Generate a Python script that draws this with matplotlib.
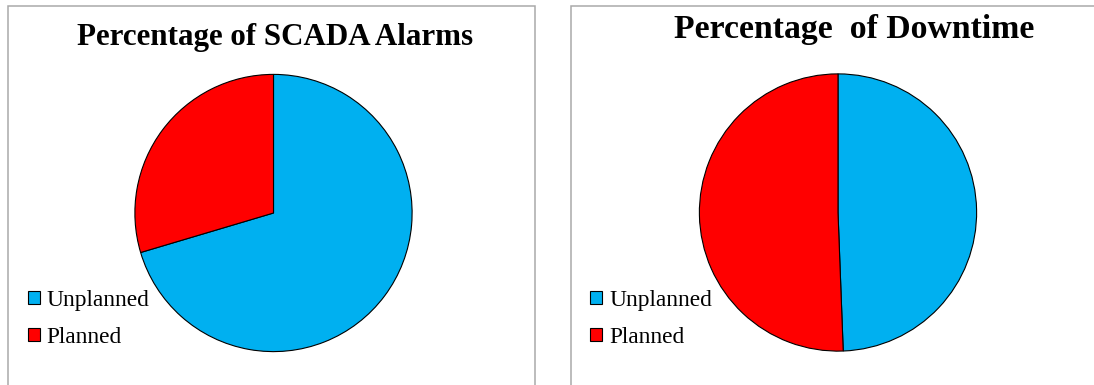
import matplotlib
matplotlib.use("Agg")
import matplotlib.pyplot as plt
from matplotlib.patches import Rectangle

# Chart data
categories = ["Unplanned", "Planned"]
alarm_share = [70.4, 29.6]       # percentage of SCADA alarms
downtime_share = [49.4, 50.6]    # percentage of downtime
titles = ["Percentage of SCADA Alarms", "Percentage  of Downtime"]
colors = ["#00B0F0", "#FF0000"]

W, H = 1094, 385
DPI = 100
plt.rcParams["font.family"] = ["Liberation Serif", "DejaVu Serif"]

fig = plt.figure(figsize=(W / DPI, H / DPI), dpi=DPI)
fig.patch.set_facecolor("white")


def fx(px):
    return px / W


def fy(py):
    return 1 - py / H


# panel frames (left one closed, right one runs off the page)
for x0, x1 in [(7.5, 535.0), (570.7, 1100.0)]:
    fig.add_artist(Rectangle((fx(x0), fy(392)), fx(x1 - x0), (392 - 6) / H,
                             transform=fig.transFigure, fill=False,
                             edgecolor="#A9A9A9", linewidth=1.1))

panels = [
    dict(data=alarm_share, title=titles[0], cx=273.5, cy=213.0, r=140.0,
         tx=275, ty=45, tsize=22.3, legx=30.5, left=7.5),
    dict(data=downtime_share, title=titles[1], cx=838.0, cy=212.5, r=140.0,
         tx=854, ty=38, tsize=24.3, legx=593.0, left=570.7),
]

for p in panels:
    cx, cy, r = p["cx"], p["cy"], p["r"]
    ax = fig.add_axes([fx(cx - r), fy(cy + r), fx(2 * r), 2 * r / H])
    wedges, _ = ax.pie(p["data"], colors=colors, startangle=90,
                       counterclock=False, radius=1.0,
                       wedgeprops=dict(edgecolor="black", linewidth=0.8))
    ax.set_xlim(-1.01, 1.01)
    ax.set_ylim(-1.01, 1.01)
    ax.set_aspect("equal")
    ax.axis("off")

    fig.text(fx(p["tx"]), fy(p["ty"]), p["title"], ha="center", va="baseline",
             fontsize=p["tsize"], fontweight="bold", color="black")

    fig.legend(wedges, categories, loc="upper left",
               bbox_to_anchor=(fx(p["legx"] - 3), fy(290)),
               frameon=False, fontsize=16.8, handlelength=0.52,
               handleheight=0.5, handletextpad=0.3, labelspacing=0.68,
               borderpad=0.0, borderaxespad=0.0)

fig.savefig("out.png", dpi=DPI, facecolor="white")
